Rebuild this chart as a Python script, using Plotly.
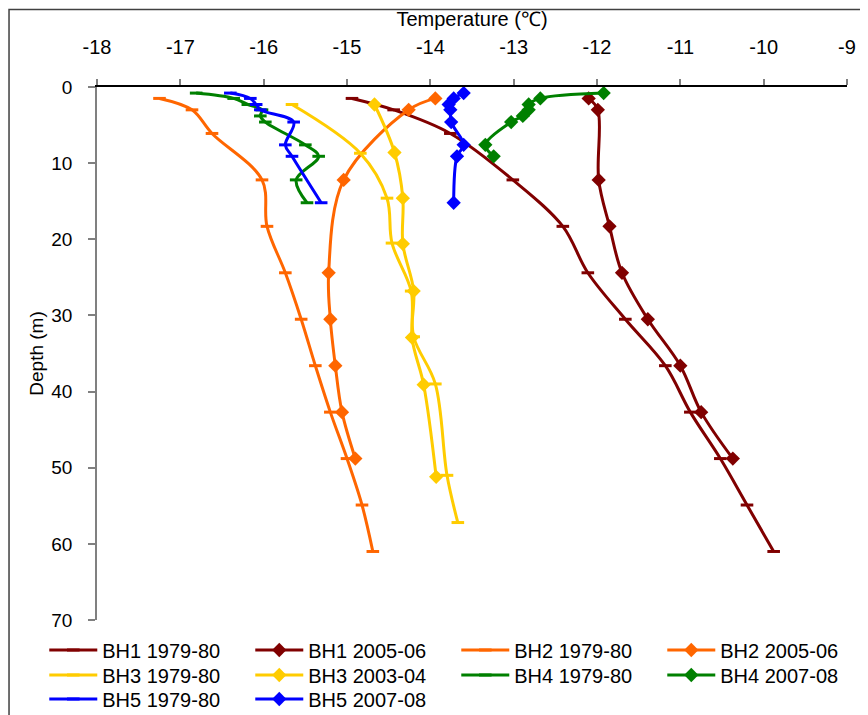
import plotly.graph_objects as go

# ---- data (temperature in degC, depth in m) ----
bh1_7980_depth = [1.5, 3.0, 6.1, 12.2, 18.3, 24.4, 30.5, 36.6, 42.7, 48.8, 54.9, 61.0]
bh1_7980_temp = [-14.94, -14.44, -13.76, -13.01, -12.41, -12.11, -11.66, -11.18, -10.88, -10.52, -10.20, -9.88]

bh1_0506_depth = [1.5, 3.0, 12.2, 18.3, 24.4, 30.5, 36.6, 42.7, 48.8]
bh1_0506_temp = [-12.10, -11.99, -11.98, -11.85, -11.70, -11.39, -11.00, -10.75, -10.37]

bh2_7980_depth = [1.5, 3.0, 6.1, 12.2, 18.3, 24.4, 30.5, 36.6, 42.7, 48.8, 54.9, 61.0]
bh2_7980_temp = [-17.25, -16.86, -16.62, -16.02, -15.96, -15.74, -15.55, -15.38, -15.20, -15.00, -14.82, -14.69]

bh2_0506_depth = [1.5, 3.0, 12.2, 24.4, 30.5, 36.6, 42.7, 48.8]
bh2_0506_temp = [-13.94, -14.26, -15.04, -15.22, -15.20, -15.14, -15.06, -14.90]

bh3_7980_depth = [2.3, 8.7, 14.6, 20.5, 26.8, 32.8, 39.0, 51.0, 57.2]
bh3_7980_temp = [-15.66, -14.84, -14.52, -14.46, -14.23, -14.20, -13.94, -13.80, -13.67]

bh3_0304_depth = [2.3, 8.6, 14.6, 20.6, 26.8, 32.9, 39.1, 51.2]
bh3_0304_temp = [-14.67, -14.43, -14.33, -14.33, -14.20, -14.22, -14.08, -13.93]

bh4_7980_depth = [0.8, 1.5, 2.3, 3.0, 3.8, 4.6, 7.6, 9.1, 12.2, 15.2]
bh4_7980_temp = [-16.81, -16.36, -16.19, -16.02, -16.04, -15.98, -15.50, -15.34, -15.61, -15.48]

bh4_0708_depth = [0.8, 1.5, 2.3, 3.0, 3.8, 4.6, 7.6, 9.1]
bh4_0708_temp = [-11.92, -12.68, -12.82, -12.82, -12.89, -13.03, -13.34, -13.24]

bh5_7980_depth = [0.8, 1.5, 2.3, 3.0, 4.6, 7.6, 9.1, 15.2]
bh5_7980_temp = [-16.40, -16.16, -16.09, -16.04, -15.64, -15.74, -15.66, -15.31]

bh5_0708_depth = [0.8, 1.5, 2.3, 3.0, 4.6, 7.6, 9.1, 15.2]
bh5_0708_temp = [-13.60, -13.72, -13.78, -13.76, -13.75, -13.60, -13.68, -13.72]

x_ticks = [-18, -17, -16, -15, -14, -13, -12, -11, -10, -9]
y_ticks = [0, 10, 20, 30, 40, 50, 60, 70]

series = [
    ("BH1 1979-80", bh1_7980_temp, bh1_7980_depth, "#800000", "old", "legend"),
    ("BH1 2005-06", bh1_0506_temp, bh1_0506_depth, "#800000", "new", "legend"),
    ("BH2 1979-80", bh2_7980_temp, bh2_7980_depth, "#FF6600", "old", "legend"),
    ("BH2 2005-06", bh2_0506_temp, bh2_0506_depth, "#FF6600", "new", "legend"),
    ("BH3 1979-80", bh3_7980_temp, bh3_7980_depth, "#FFCC00", "old", "legend2"),
    ("BH3 2003-04", bh3_0304_temp, bh3_0304_depth, "#FFCC00", "new", "legend2"),
    ("BH4 1979-80", bh4_7980_temp, bh4_7980_depth, "#008000", "old", "legend2"),
    ("BH4 2007-08", bh4_0708_temp, bh4_0708_depth, "#008000", "new", "legend2"),
    ("BH5 1979-80", bh5_7980_temp, bh5_7980_depth, "#0000FF", "old", "legend3"),
    ("BH5 2007-08", bh5_0708_temp, bh5_0708_depth, "#0000FF", "new", "legend3"),
]

FONT = "Liberation Sans, Arial, sans-serif"

fig = go.Figure()
for name, t, d, color, kind, leg in series:
    if kind == "old":
        marker = dict(symbol="line-ew", size=9, color=color,
                      line=dict(color=color, width=3))
    else:
        marker = dict(symbol="diamond", size=11, color=color,
                      line=dict(color=color, width=0))
    fig.add_trace(go.Scatter(
        x=t, y=d, name=name, mode="lines+markers", legend=leg,
        line=dict(color=color, width=3, shape="spline", smoothing=1.0),
        marker=marker,
    ))


def legend_row(y):
    return dict(
        orientation="h", x=-0.0703, xanchor="left", y=y, yanchor="middle",
        entrywidth=143, entrywidthmode="pixels", itemwidth=48,
        font=dict(family=FONT, size=20, color="black"),
        bgcolor="rgba(0,0,0,0)", tracegroupgap=0,
    )


fig.update_layout(
    width=860, height=707,
    paper_bgcolor="white", plot_bgcolor="white",
    margin=dict(l=89, r=21, t=79, b=95, autoexpand=False),
    font=dict(family=FONT, size=20, color="black"),
    showlegend=True,
    legend=legend_row(-0.0563),
    legend2=legend_row(-0.1032),
    legend3=legend_row(-0.1482),
    xaxis=dict(
        side="top", range=[-18, -9], tickmode="array", tickvals=x_ticks,
        ticktext=[str(v) for v in x_ticks],
        showgrid=False, zeroline=False,
        showline=True, linecolor="black", linewidth=1.5,
        ticks="outside", ticklen=6, tickcolor="#808080", tickwidth=1.5,
        ticklabelstandoff=17,
        tickfont=dict(size=20),
        title=dict(text="Temperature (\u2103)", font=dict(size=20), standoff=5),
    ),
    yaxis=dict(
        range=[70, 0], tickmode="array", tickvals=y_ticks,
        ticktext=[str(v) for v in y_ticks],
        showgrid=False, zeroline=False,
        showline=True, linecolor="#808080", linewidth=1.5,
        ticks="outside", ticklen=7, tickcolor="#808080", tickwidth=1.5,
        ticklabelstandoff=12,
        tickfont=dict(size=19),
        title=dict(text="Depth (m)", font=dict(size=19), standoff=3),
    ),
    shapes=[dict(
        type="rect", xref="paper", yref="paper",
        x0=-0.1173, x1=1.0227, y0=-0.2, y1=1.1454,
        line=dict(color="#404040", width=1.5), fillcolor="rgba(0,0,0,0)",
        layer="above",
    )],
)

fig.write_html("out.html")
